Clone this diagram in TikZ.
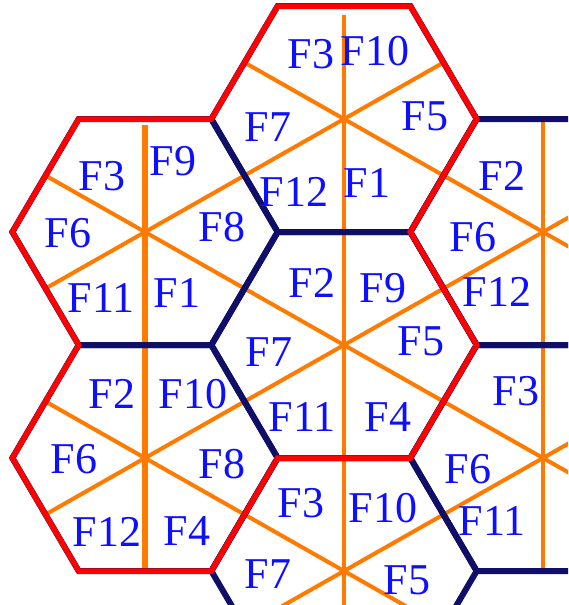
\documentclass[tikz,border=0pt]{standalone}
\usepackage{fontspec}
\setmainfont{Liberation Serif}
\usetikzlibrary{calc}
\definecolor{navyc}{RGB}{15,15,105}
\definecolor{orangec}{RGB}{255,122,0}
\definecolor{labelc}{RGB}{15,15,255}
\def\ha{132.67}
\def\hb{66.33}
\def\hh{113}
\begin{document}
\begin{tikzpicture}[x=1pt,y=-1pt,
  hexedge/.style={draw=navyc, line width=6pt, line join=miter},
  redline/.style={draw=red, line width=5.5pt, line join=miter},
  ray/.style={draw=orangec, line width=4pt},
  lab/.style={text=labelc, inner sep=0pt, font=\fontsize{44}{44}\selectfont}]
\useasboundingbox (0,0) rectangle (568,605);
\clip (0,0) rectangle (568,605);
% cell centres
\coordinate (LU) at (145,232);
\coordinate (LL) at (145,458);
\coordinate (T)  at (344,119);
\coordinate (C)  at (344,345);
\coordinate (B)  at (344,571);
\coordinate (RU) at (543,232);
\coordinate (RL) at (543,458);
% orange sector lines
\draw[ray, line width=6pt] ($(LU)+(0,-107)$) -- ($(LL)+(0,113)$);
\draw[ray, line width=3.5pt] ($(T)+(0,-104)$) -- ($(B)+(0,60)$);
\draw[ray] ($(RU)+(0,-110)$) -- ($(RL)+(0,110)$);
\draw[ray] ($(T)+(-99.5,-56.5)$) -- ($(RU)+(199,113)$);
\draw[ray] ($(LU)+(-99.5,-56.5)$) -- ($(RL)+(199,113)$);
\draw[ray] ($(LL)+(-99.5,-56.5)$) -- ($(B)+(199,113)$);
\draw[ray] ($(LL)+(-99.5,56.5)$) -- ($(RU)+(199,-113)$);
\draw[ray] ($(LU)+(-99.5,56.5)$) -- ($(T)+(99.5,-56.5)$);
\draw[ray] ($(B)+(-199,113)$) -- ($(RL)+(199,-113)$);
% hexagonal cells
\foreach \c in {LU,LL,T,C,B,RU,RL}{
  \draw[hexedge, shift={(\c)}] (-\ha,0) -- (-\hb,-\hh) -- (\hb,-\hh) -- (\ha,0) -- (\hb,\hh) -- (-\hb,\hh) -- cycle;
}
% red cluster outline
\draw[redline] ($(LU)+(-\hb,-\hh)$) -- ($(T)+(-\ha,0)$) -- ($(T)+(-\hb,-\hh)$) -- ($(T)+(\hb,-\hh)$)
  -- ($(T)+(\ha,0)$) -- ($(C)+(\hb,-\hh)$) -- ($(C)+(\ha,0)$) -- ($(C)+(\hb,\hh)$)
  -- ($(C)+(-\hb,\hh)$) -- ($(LL)+(\hb,\hh)$) -- ($(LL)+(-\hb,\hh)$) -- ($(LL)+(-\ha,0)$)
  -- ($(LL)+(-\hb,-\hh)$) -- ($(LU)+(-\ha,0)$) -- cycle;
% labels: top cell
\node[lab] (t3) at (311,54) {F3};
\node[lab] (t10) at (375,51) {F10};
\node[lab] (t7) at (268,127) {F7};
\node[lab] (t5) at (425,116) {F5};
\node[lab] (t12) at (294,192) {F12};
\node[lab] (t1) at (367,183) {F1};
% left upper
\node[lab] (lu3) at (102,176) {F3};
\node[lab] (lu9) at (173,161) {F9};
\node[lab] (lu6) at (68,233) {F6};
\node[lab] (lu8) at (222,227) {F8};
\node[lab] (lu11) at (101,298) {F11};
\node[lab] (lu1) at (177,293) {F1};
% centre
\node[lab] (c2) at (312,283) {F2};
\node[lab] (c9) at (383,288) {F9};
\node[lab] (c7) at (269,352) {F7};
\node[lab] (c5) at (421,341) {F5};
\node[lab] (c11) at (302,417) {F11};
\node[lab] (c4) at (388,417) {F4};
% right upper
\node[lab] (ru2) at (502,176) {F2};
\node[lab] (ru6) at (473,237) {F6};
\node[lab] (ru12) at (497,292) {F12};
% left lower
\node[lab] (ll2) at (112,394) {F2};
\node[lab] (ll10) at (193,394) {F10};
\node[lab] (ll6) at (74,459) {F6};
\node[lab] (ll8) at (222,464) {F8};
\node[lab] (ll12) at (107,532) {F12};
\node[lab] (ll4) at (187,531) {F4};
% bottom
\node[lab] (b3) at (301,503) {F3};
\node[lab] (b10) at (383,508) {F10};
\node[lab] (b7) at (268,574) {F7};
\node[lab] (b5) at (407,580) {F5};
% right lower
\node[lab] (rl3) at (516,391) {F3};
\node[lab] (rl6) at (468,469) {F6};
\node[lab] (rl11) at (492,521) {F11};
\end{tikzpicture}
\end{document}
